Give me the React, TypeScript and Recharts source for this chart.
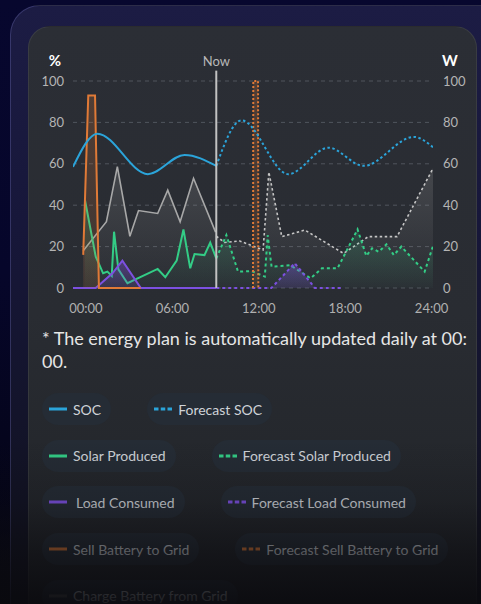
import React from 'react';
import {
  ComposedChart,
  Line,
  Area,
  XAxis,
  YAxis,
  CartesianGrid,
  ReferenceLine,
  Label,
} from 'recharts';

// ---- data (x = hour of day, y = value) ----
const socHours = [-0.9, 0.8, 4.3, 6.85, 9.05];
const socValues = [58.5, 74.5, 55, 64.3, 59];

const forecastSocHours = [9.05, 10.8, 14.05, 16.84, 19.28, 22.77, 24.1];
const forecastSocValues = [59, 81, 55, 67.8, 59, 73, 68];

const solarHours = [-0.07, 0.68, 1.19, 1.49, 1.79, 1.95, 2.25, 2.88, 4.98, 5.51, 6.3, 6.77, 7.24, 7.54, 8.23, 8.63, 9.05];
const solarValues = [42.5, 15.1, 7.1, 7.9, 5.8, 27.2, 9, 2.3, 9.2, 5.2, 13.2, 28.3, 9.5, 16.4, 15.9, 21.9, 14.3];

const forecastSolarHours = [9.05, 9.75, 10.56, 11.49, 12.42, 12.62, 12.89, 14.2, 15.6, 16.38, 17.47, 18.86, 19.47, 19.87, 20.33, 20.87, 21.38, 21.9, 23.52, 24.1];
const forecastSolarValues = [14.3, 25.6, 7.9, 8.2, 5.5, 25.5, 10.3, 11, 4.7, 9.5, 9.5, 28.3, 15.5, 19.2, 17.5, 21.1, 15.9, 20, 7.9, 20.3];

const loadHours = [-0.9, 0.68, 1.84, 2.53, 3.81, 9.05];
const loadValues = [0, 0, 7.1, 13.2, 0, 0];

const forecastLoadHours = [9.05, 12.88, 14.5, 15.9, 17.9];
const forecastLoadValues = [0, 0, 12, 0, 0];

const sellHours = [-0.19, 0.16, 0.63, 0.9, 3.8];
const sellValues = [16, 93, 93, 0, 0];

const forecastSellHours = [11.6, 11.62, 11.95, 11.97];
const forecastSellValues = [0, 100, 100, 0];

const chargeHours = [-0.19, 1.42, 2.18, 3.05, 3.65, 4.98, 5.68, 6.54, 7.47, 9.0];
const chargeValues = [18, 32, 58.6, 25, 37.4, 36, 47.3, 32, 53, 27];

const forecastChargeHours = [9.05, 9.63, 10.68, 12.3, 12.7, 13.6, 15.2, 17.89, 19.6, 21.6, 24.1];
const forecastChargeValues = [25, 22, 22.7, 18.4, 56, 24.8, 28, 16.7, 24.8, 24.8, 57.8];

const nowHour = 9.05;
const xTickHours = [0, 6, 12, 18, 24];
const xTickLabels = ['00:00', '06:00', '12:00', '18:00', '24:00'];
const yTicks = [0, 20, 40, 60, 80, 100];

const legendRows = [
  ['SOC', 'Forecast SOC'],
  ['Solar Produced', 'Forecast Solar Produced'],
  ['Load Consumed', 'Forecast Load Consumed'],
  ['Sell Battery to Grid', 'Forecast Sell Battery to Grid'],
  ['Charge Battery from Grid'],
];

const noteText = ['* The energy plan is automatically updated daily at 00:', '00.'];

// ---- styles ----
const C = {
  blue: '#2ba4da',
  green: '#33cd86',
  purple: '#7c50e0',
  orange: '#e07a37',
  gray: '#a8a8a8',
  grayF: '#c6c6c6',
};
const legendColors = [C.blue, C.green, C.purple, C.orange, '#5a5a5a'];

const zip = (hs: number[], vs: number[]) => hs.map((h, i) => ({ h, v: vs[i] }));

function LegendIcon({ color, dashed }: { color: string; dashed: boolean }) {
  return (
    <svg width={18} height={4} style={{ display: 'block' }}>
      <line
        x1={0}
        y1={2}
        x2={18}
        y2={2}
        stroke={color}
        strokeWidth={3}
        strokeDasharray={dashed ? '4.5 2.25' : undefined}
      />
    </svg>
  );
}

export default function App() {
  return (
    <div
      style={{
        position: 'fixed',
        left: 0,
        top: 0,
        width: 481,
        height: 604,
        overflow: 'hidden',
        background: 'linear-gradient(180deg,#07072e 0%,#06062a 45%,#040410 100%)',
        fontFamily: 'Lato, sans-serif',
      }}
    >
      <div
        style={{
          position: 'absolute',
          left: 10,
          top: 5,
          width: 520,
          height: 720,
          borderRadius: 30,
          background: 'linear-gradient(180deg,#1c1c44 0%,#17173a 30%,#121326 65%,#0c0c12 100%)',
          border: '1px solid rgba(120,120,200,0.3)',
          boxSizing: 'border-box',
        }}
      />
      <div
        style={{
          position: 'absolute',
          left: 28,
          top: 26,
          width: 449,
          height: 720,
          borderRadius: 22,
          background: 'linear-gradient(180deg,#2b2e35 0%,#292c32 40%,#24272c 62%,#1e2024 85%,#1a1b1f 100%)',
          border: '1px solid rgba(255,255,255,0.07)',
          boxSizing: 'border-box',
        }}
      />
      <div style={{ position: 'absolute', left: 0, top: 0 }}>
        <ComposedChart
          width={481}
          height={330}
          margin={{ top: 81, right: 8, bottom: 12, left: 33 }}
          style={{ fontFamily: 'Lato, sans-serif' }}
        >
          <defs>
            <linearGradient id="gGreen" x1="0" y1="0" x2="0" y2="1">
              <stop offset="0%" stopColor={C.green} stopOpacity={0.32} />
              <stop offset="100%" stopColor={C.green} stopOpacity={0.03} />
            </linearGradient>
            <linearGradient id="gGray" x1="0" y1="0" x2="0" y2="1">
              <stop offset="0%" stopColor="#9a9a9a" stopOpacity={0.4} />
              <stop offset="100%" stopColor="#9a9a9a" stopOpacity={0.02} />
            </linearGradient>
            <linearGradient id="gPurple" x1="0" y1="0" x2="0" y2="1">
              <stop offset="0%" stopColor={C.purple} stopOpacity={0.65} />
              <stop offset="100%" stopColor={C.purple} stopOpacity={0.25} />
            </linearGradient>
            <linearGradient id="gOrange" x1="0" y1="0" x2="0" y2="1">
              <stop offset="0%" stopColor={C.orange} stopOpacity={0.35} />
              <stop offset="100%" stopColor={C.orange} stopOpacity={0.2} />
            </linearGradient>
          </defs>
          <CartesianGrid
            yAxisId="pct"
            vertical={false}
            stroke="#50555d"
            strokeDasharray="4 4"
          />
          <XAxis
            type="number"
            dataKey="h"
            domain={[-0.9, 24.1]}
            allowDataOverflow
            ticks={xTickHours}
            tickFormatter={(h: number) => xTickLabels[xTickHours.indexOf(h)]}
            axisLine={false}
            tickLine={false}
            tickMargin={10}
            tick={{ fill: '#b0b0b0', fontSize: 13 }}
            height={30}
          />
          <YAxis
            yAxisId="pct"
            orientation="left"
            domain={[0, 100]}
            ticks={yTicks}
            width={40}
            axisLine={false}
            tickLine={false}
            tickMargin={3}
            tick={{ fill: '#b4b4b4', fontSize: 13 }}
          >
            <Label value="%" position="top" offset={15} fill="#ffffff" fontSize={15} fontWeight={700} dx={2} />
          </YAxis>
          <YAxis
            yAxisId="w"
            orientation="right"
            domain={[0, 100]}
            ticks={yTicks}
            width={40}
            axisLine={false}
            tickLine={false}
            tickMargin={4}
            tick={{ fill: '#b4b4b4', fontSize: 13 }}
          >
            <Label value="W" position="top" offset={15} fill="#ffffff" fontSize={15} fontWeight={700} dx={-3} />
          </YAxis>

          {/* Charge battery from grid */}
          <Area
            yAxisId="w"
            data={zip(chargeHours, chargeValues)}
            dataKey="v"
            type="linear"
            stroke={C.gray}
            strokeWidth={1.6}
            fill="url(#gGray)"
            isAnimationActive={false}
            dot={false}
            activeDot={false}
          />
          <Area
            yAxisId="w"
            data={zip(forecastChargeHours, forecastChargeValues)}
            dataKey="v"
            type="linear"
            stroke={C.grayF}
            strokeWidth={1.6}
            strokeDasharray="2.5 2.5"
            fill="url(#gGray)"
            isAnimationActive={false}
            dot={false}
            activeDot={false}
          />
          {/* Solar produced */}
          <Area
            yAxisId="w"
            data={zip(solarHours, solarValues)}
            dataKey="v"
            type="linear"
            stroke={C.green}
            strokeWidth={2}
            fill="url(#gGreen)"
            isAnimationActive={false}
            dot={false}
            activeDot={false}
          />
          <Area
            yAxisId="w"
            data={zip(forecastSolarHours, forecastSolarValues)}
            dataKey="v"
            type="linear"
            stroke={C.green}
            strokeWidth={2}
            strokeDasharray="3 3"
            fill="url(#gGreen)"
            isAnimationActive={false}
            dot={false}
            activeDot={false}
          />
          {/* Load consumed */}
          <Area
            yAxisId="w"
            data={zip(loadHours, loadValues)}
            dataKey="v"
            type="linear"
            stroke={C.purple}
            strokeWidth={2}
            fill="url(#gPurple)"
            isAnimationActive={false}
            dot={false}
            activeDot={false}
          />
          <Area
            yAxisId="w"
            data={zip(forecastLoadHours, forecastLoadValues)}
            dataKey="v"
            type="linear"
            stroke={C.purple}
            strokeWidth={2}
            strokeDasharray="3 3"
            fill="url(#gPurple)"
            isAnimationActive={false}
            dot={false}
            activeDot={false}
          />
          {/* Sell battery to grid */}
          <Area
            yAxisId="w"
            data={zip(sellHours, sellValues)}
            dataKey="v"
            type="linear"
            stroke={C.orange}
            strokeWidth={2}
            fill="url(#gOrange)"
            isAnimationActive={false}
            dot={false}
            activeDot={false}
          />
          <Area
            yAxisId="w"
            data={zip(forecastSellHours, forecastSellValues)}
            dataKey="v"
            type="linear"
            stroke={C.orange}
            strokeWidth={2}
            strokeDasharray="2 2"
            fill="url(#gOrange)"
            isAnimationActive={false}
            dot={false}
            activeDot={false}
          />
          {/* SOC */}
          <Line
            yAxisId="pct"
            data={zip(socHours, socValues)}
            dataKey="v"
            type="monotone"
            stroke={C.blue}
            strokeWidth={2}
            dot={false}
            activeDot={false}
            isAnimationActive={false}
          />
          <Line
            yAxisId="pct"
            data={zip(forecastSocHours, forecastSocValues)}
            dataKey="v"
            type="monotone"
            stroke={C.blue}
            strokeWidth={2}
            strokeDasharray="2.5 2.5"
            dot={false}
            activeDot={false}
            isAnimationActive={false}
          />
          <ReferenceLine
            yAxisId="pct"
            segment={[
              { x: nowHour, y: 0 },
              { x: nowHour, y: 105 },
            ]}
            ifOverflow="visible"
            stroke="#c2c2c2"
            strokeWidth={2}
          >
            <Label value="Now" position="top" offset={5} fill="#b8b8b8" fontSize={13} />
          </ReferenceLine>
        </ComposedChart>
      </div>

      <div
        style={{
          position: 'absolute',
          left: 42,
          top: 327,
          fontSize: 18,
          lineHeight: '23px',
          color: '#e6e6e6',
        }}
      >
        {noteText.map((t, i) => (
          <div key={i} style={{ whiteSpace: 'nowrap' }}>
            {t}
          </div>
        ))}
      </div>

      <div style={{ position: 'absolute', left: 42, top: 393 }}>
        {legendRows.map((row, ri) => (
          <div key={ri} style={{ display: 'flex', gap: 36, height: 32, marginBottom: 14.7 }}>
            {row.map((name, ci) => (
              <div
                key={name}
                style={{
                  display: 'flex',
                  alignItems: 'center',
                  height: 32,
                  padding: '0 10px 0 7px',
                  borderRadius: 16,
                  background: '#252c35',
                  color: '#cfd3d8',
                  fontSize: 14,
                  whiteSpace: 'nowrap',
                }}
              >
                <LegendIcon color={legendColors[ri]} dashed={ci === 1} />
                <span style={{ marginLeft: ri === 2 && ci === 0 ? 9 : 6 }}>{name}</span>
              </div>
            ))}
          </div>
        ))}
      </div>

      <div
        style={{
          position: 'absolute',
          left: 0,
          top: 440,
          width: 481,
          height: 164,
          background:
            'linear-gradient(180deg, rgba(12,12,16,0) 0%, rgba(12,12,16,0.2) 38%, rgba(12,12,16,0.6) 68%, rgba(10,10,14,0.9) 100%)',
          pointerEvents: 'none',
        }}
      />
    </div>
  );
}
